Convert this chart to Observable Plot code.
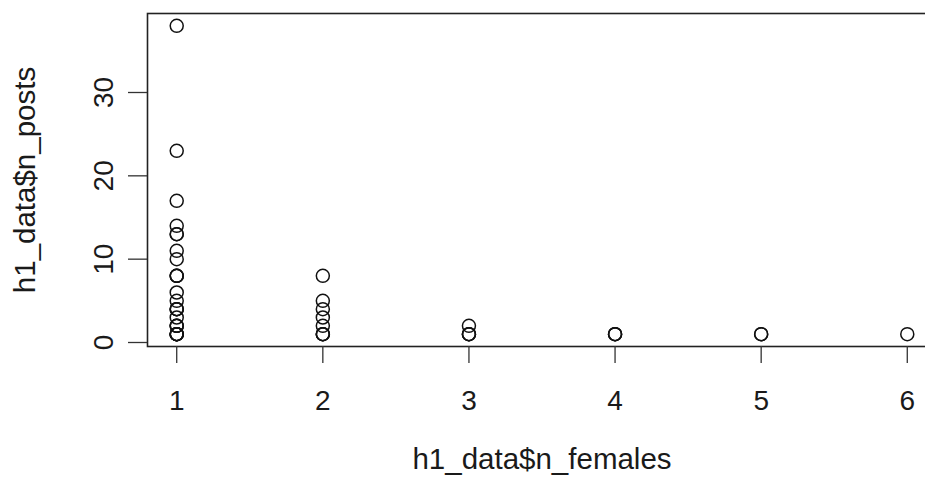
<!DOCTYPE html>
<html>
<head>
<meta charset="utf-8">
<script src="https://cdn.jsdelivr.net/npm/d3@7"></script>
<script src="https://cdn.jsdelivr.net/npm/@observablehq/plot@0.6"></script>
<style>
  html, body { margin: 0; padding: 0; background: #fff; overflow: hidden; }
  svg { display: block; }
</style>
</head>
<body>
<div id="chart"></div>
<script>
// Data
const nFemales = [
  1,1,1,1,1,1,1,1,1,1,1,1,1,1,1,1,1,1,1,1,1,1,1,1,1,
  2,2,2,2,2,2,2,2,
  3,3,3,3,
  4,4,4,
  5,5,
  6
];
const nPosts = [
  38,23,17,14,13,13,11,10,8,8,8,6,5,4,4,4,3,2,2,2,1,1,1,1,1,
  8,5,4,3,2,1,1,1,
  2,1,1,1,
  1,1,1,
  1,1,
  1
];
const xTicks = [1, 2, 3, 4, 5, 6];
const yTicks = [0, 10, 20, 30];
const xTitle = "h1_data$n_females";
const yTitle = "h1_data$n_posts";

const data = nFemales.map((f, i) => ({n_females: f, n_posts: nPosts[i]}));

const chart = Plot.plot({
  width: 925,
  height: 483,
  marginLeft: 147,
  marginRight: -11,
  marginTop: 13,
  marginBottom: 137,
  style: {fontFamily: "'Liberation Sans', Arial, Helvetica, sans-serif", fontSize: "28px", color: "#1a1a1a", background: "#fff"},
  x: {domain: [0.8, 6.2]},
  y: {domain: [-0.48, 39.48]},
  marks: [
    Plot.frame({stroke: "#222", strokeWidth: 1.6}),
    Plot.axisX({ticks: xTicks, tickSize: 17, tickPadding: 27, label: null, fontSize: 28, stroke: "#333", strokeWidth: 1.3, tickFormat: d => String(d)}),
    Plot.axisY({ticks: yTicks, tickSize: 19, tickRotate: -90, tickPadding: 16, label: null, fontSize: 28, stroke: "#333", strokeWidth: 1.3, tickFormat: d => String(d)}),
    Plot.dot(data, {x: "n_females", y: "n_posts", r: 6.5, stroke: "#111", strokeWidth: 1.5, fill: "none"}),
    Plot.text([xTitle], {text: d => d, frameAnchor: "bottom", dy: 122, fontSize: 29.5, fill: "#1a1a1a"}),
    Plot.text([yTitle], {text: d => d, frameAnchor: "left", textAnchor: "middle", dx: -122, rotate: -90, fontSize: 29.5, fill: "#1a1a1a"})
  ]
});
document.getElementById("chart").appendChild(chart);
</script>
</body>
</html>
